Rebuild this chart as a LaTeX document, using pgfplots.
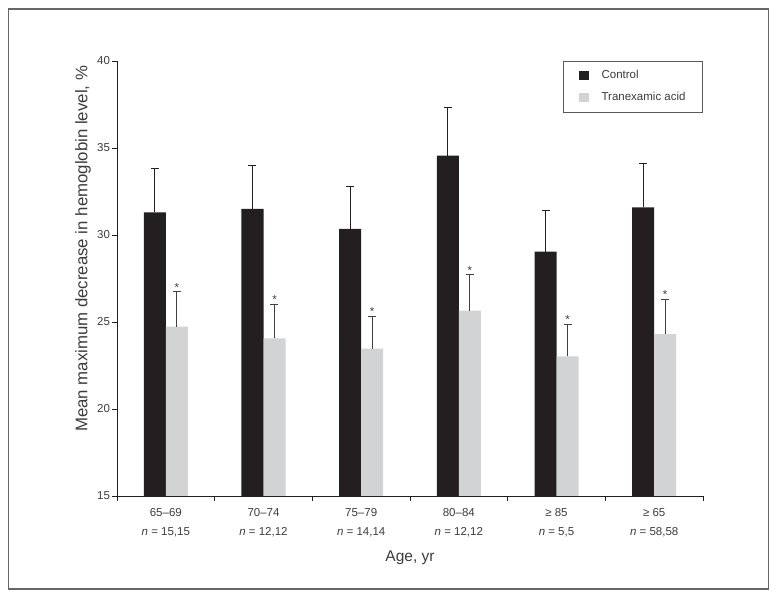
\documentclass[border=0pt]{standalone}
\usepackage{fontspec}
\setmainfont{Liberation Sans}
\usepackage{pgfplots}
\pgfplotsset{compat=1.18}
\definecolor{ctrl}{HTML}{231F20}
\definecolor{txa}{HTML}{D1D3D4}
\definecolor{txt}{HTML}{3C3C3C}
\begin{document}
\begin{tikzpicture}
\begin{axis}[
  scale only axis, width=586pt, height=435pt,
  xmin=0.5, xmax=6.5, ymin=15, ymax=40,
  axis x line*=bottom, axis y line*=left,
  axis line style={color=ctrl, line width=0.9pt},
  tick align=outside, major tick length=5pt,
  ytick={15,20,...,40},
  y tick style={draw=ctrl, line width=0.9pt},
  xtick={1,2,3,4,5,6},
  xticklabels={{65--69\\\textit{n} = 15,15},{70--74\\\textit{n} = 12,12},{75--79\\\textit{n} = 14,14},{80--84\\\textit{n} = 12,12},{≥ 85\\\textit{n} = 5,5},{≥ 65\\\textit{n} = 58,58}},
  x tick style={draw=none},
  extra x ticks={0.5,1.5,2.5,3.5,4.5,5.5,6.5},
  extra x tick labels={},
  extra x tick style={/pgfplots/every x tick/.append style={draw=ctrl, line width=0.9pt}},
  xticklabel style={align=center, yshift=-4pt, font=\fontsize{11.5}{19}\selectfont, text=txt},
  yticklabel style={xshift=1.5pt, font=\fontsize{11.5}{14}\selectfont, text=txt},
  /pgf/number format/assume math mode=true,
  xlabel={Age, yr},
  ylabel={Mean maximum decrease in hemoglobin level, \%},
  xlabel style={at={(axis description cs:0.5,-0.1425)}, anchor=center, font=\fontsize{15.5}{19}\selectfont, text=txt},
  ylabel style={at={(axis description cs:-0.058,0.568)}, anchor=center, font=\fontsize{16.8}{19}\selectfont, text=txt},
  legend style={at={(1,1)}, anchor=north east, draw=black!65, line width=0.9pt,
    font=\fontsize{11.5}{14}\selectfont, text=txt,
    inner xsep=15pt, inner ysep=7pt, row sep=7pt,
    nodes={text height=8.5pt, text depth=2.5pt},
    /tikz/every odd column/.append style={column sep=11pt}},
  legend cell align=left,
  legend image code/.code={\path[#1, draw=none] (0pt,-4.5pt) rectangle (10pt,5pt);},
]
\addplot[ybar, bar width=22pt, bar shift=0pt, fill=ctrl, draw=none,
  x filter/.expression={x-0.11263},
  error bars/.cd, y dir=plus, y explicit,
  error bar style={line width=1pt, color=ctrl},
  error mark options={rotate=90, mark size=4pt, line width=1pt, color=ctrl}]
coordinates {
  (1,31.30) +- (0,2.55)
  (2,31.50) +- (0,2.50)
  (3,30.35) +- (0,2.45)
  (4,34.56) +- (0,2.78)
  (5,29.04) +- (0,2.36)
  (6,31.59) +- (0,2.53)
};
\addlegendentry{Control}
\addplot[ybar, bar width=22pt, bar shift=0pt, fill=txa, draw=none,
  x filter/.expression={x+0.11263},
  error bars/.cd, y dir=plus, y explicit,
  error bar style={line width=1pt, color=black!75},
  error mark options={rotate=90, mark size=4pt, line width=1pt, color=black!75}]
coordinates {
  (1,24.73) +- (0,2.01)
  (2,24.06) +- (0,1.96)
  (3,23.47) +- (0,1.87)
  (4,25.65) +- (0,2.07)
  (5,23.03) +- (0,1.84)
  (6,24.31) +- (0,1.99)
};
\addlegendentry{Tranexamic acid}
% significance asterisks above the Tranexamic acid error bars
\addplot[forget plot, ybar, bar width=22pt, bar shift=0pt, draw=none, fill=none,
  x filter/.expression={x+0.11263},
  nodes near coords={*},
  every node near coord/.style={anchor=base, inner sep=0pt, yshift=0.5pt, font=\fontsize{11.5}{14}\selectfont, text=txt}]
coordinates {
  (1,26.74) (2,26.02) (3,25.34) (4,27.72) (5,24.87) (6,26.30)
};
\coordinate (SW) at (rel axis cs:0,0);
\coordinate (NE) at (rel axis cs:1,1);
\end{axis}
\path[use as bounding box] ([xshift=-117pt,yshift=-102pt]SW) rectangle ([xshift=75pt,yshift=61pt]NE);
\draw[black!60, line width=1.3pt] ([xshift=-108.5pt,yshift=-93pt]SW) rectangle ([xshift=65.5pt,yshift=52pt]NE);
\end{tikzpicture}
\end{document}
